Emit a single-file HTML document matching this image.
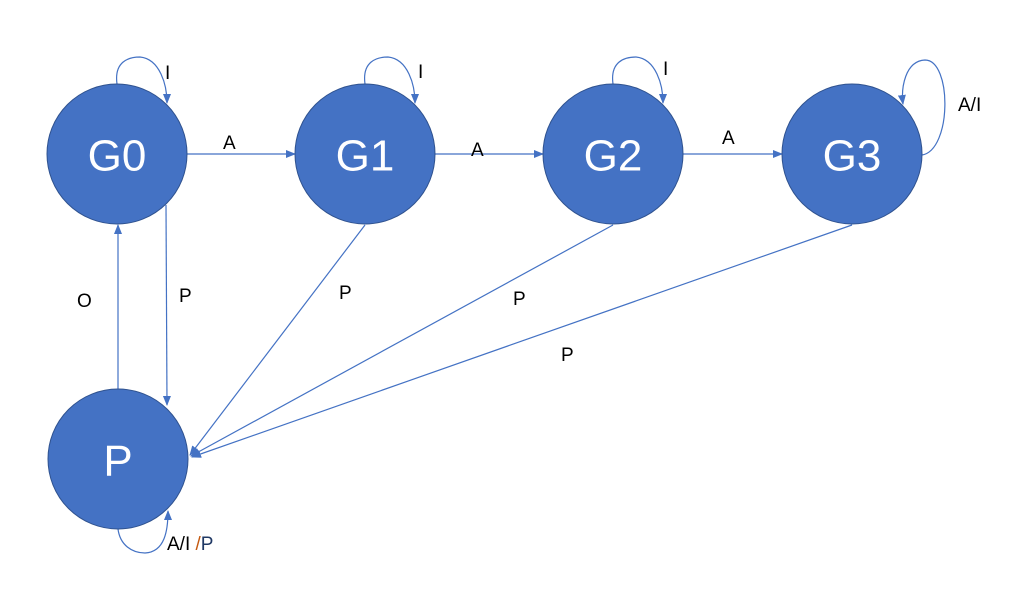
<!DOCTYPE html>
<html><head><meta charset="utf-8"><style>
body{margin:0;background:#fff}
svg{display:block}
.n{fill:#4472C4;stroke:#2F528F;stroke-width:1}
.nt{fill:#fff;font-family:"Liberation Sans",sans-serif;font-size:44px;text-anchor:middle;dominant-baseline:central}
.e{stroke:#4472C4;stroke-width:1.2;fill:none}
.l{font-family:"Liberation Sans",sans-serif;font-size:19px;fill:#000}
</style></head><body>
<svg width="1027" height="602" viewBox="0 0 1027 602">
<defs><marker id="ah" markerWidth="10" markerHeight="8" refX="9" refY="4" orient="auto" markerUnits="userSpaceOnUse"><path d="M0,0 L10,4 L0,8 Z" fill="#4472C4"/></marker></defs>
<g>
<path class="e" marker-end="url(#ah)" d="M187,154 L295,154"/>
<path class="e" marker-end="url(#ah)" d="M435,154 L543,154"/>
<path class="e" marker-end="url(#ah)" d="M683,154 L782,154"/>
<path class="e" marker-end="url(#ah)" d="M166,205 L167,405"/>
<path class="e" marker-end="url(#ah)" d="M118,389 L118,225"/>
<path class="e" marker-end="url(#ah)" d="M365,225 L190,455"/>
<path class="e" marker-end="url(#ah)" d="M613,225 L191,456"/>
<path class="e" marker-end="url(#ah)" d="M852,225 L192,457"/>
<path class="e" marker-end="url(#ah)" d="M117,84 C114,62 128,57 140,57 C160,59 167,85 167,103"/>
<path class="e" marker-end="url(#ah)" d="M365,84 C362,62 376,57 388,57 C408,59 415,85 415,103"/>
<path class="e" marker-end="url(#ah)" d="M613,84 C610,62 624,57 636,57 C656,59 663,85 663,103"/>
<path class="e" marker-end="url(#ah)" d="M922,155 C952,150 952,60 925,60 C905,61 901,88 903,104"/>
<path class="e" marker-end="url(#ah)" d="M118,529 C120,545 132,553 145,553 C165,552 168,530 168,511"/>
</g>
<g>
<circle class="n" cx="117" cy="154" r="70"/>
<circle class="n" cx="365" cy="154" r="70"/>
<circle class="n" cx="613" cy="154" r="70"/>
<circle class="n" cx="852" cy="154" r="70"/>
<circle class="n" cx="118" cy="459" r="70"/>
<text class="nt" x="117" y="156">G0</text>
<text class="nt" x="365" y="156">G1</text>
<text class="nt" x="613" y="156">G2</text>
<text class="nt" x="852" y="156">G3</text>
<text class="nt" x="118" y="461">P</text>
</g>
<g>
<text class="l" x="165" y="79">I</text>
<text class="l" x="418" y="78">I</text>
<text class="l" x="663" y="75">I</text>
<text class="l" x="958" y="111">A/I</text>
<text class="l" x="223" y="149">A</text>
<text class="l" x="471" y="156">A</text>
<text class="l" x="722" y="144">A</text>
<text class="l" x="77" y="307">O</text>
<text class="l" x="179" y="302">P</text>
<text class="l" x="339" y="299">P</text>
<text class="l" x="513" y="305">P</text>
<text class="l" x="561" y="361">P</text>
<text class="l" x="167" y="550">A/I <tspan fill="#C55A11">/</tspan><tspan fill="#1F3864">P</tspan></text>
</g>
</svg>
</body></html>
